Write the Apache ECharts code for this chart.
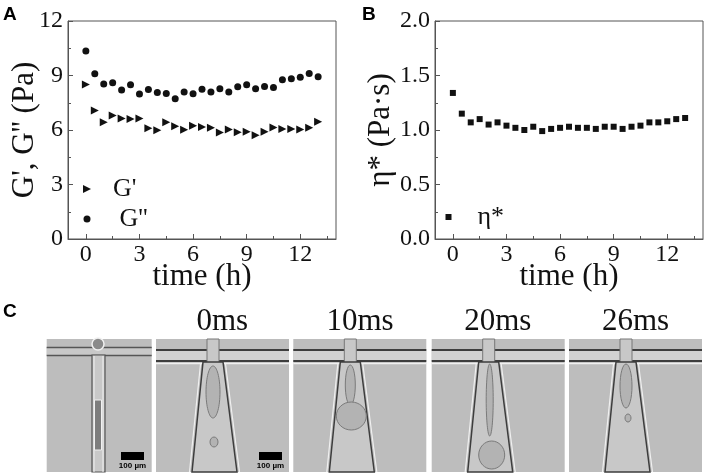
<!DOCTYPE html>
<html>
<head>
<meta charset="utf-8">
<script src="https://cdn.jsdelivr.net/npm/echarts@6/dist/echarts.min.js"></script>
<style>
  html, body { margin: 0; padding: 0; background: #fff; }
  #chart { width: 706px; height: 475px; }
</style>
</head>
<body>
<div id="chart"></div>
<script>
// time points (h), shared by both panels
const hours = [0, 0.5, 1, 1.5, 2, 2.5, 3, 3.5, 4, 4.5, 5, 5.5, 6, 6.5, 7, 7.5, 8, 8.5, 9, 9.5, 10, 10.5, 11, 11.5, 12, 12.5, 13]
// panel A: storage modulus G' and loss modulus G'' (Pa)
const gPrime = [8.51, 7.07, 6.43, 6.8, 6.63, 6.6, 6.63, 6.1, 5.99, 6.43, 6.21, 6.01, 6.23, 6.16, 6.12, 5.86, 6.03, 5.88, 5.9, 5.71, 5.9, 6.14, 6.05, 6.05, 6.03, 6.12, 6.45]
const gDouble = [10.35, 9.1, 8.53, 8.6, 8.2, 8.49, 7.98, 8.23, 8.07, 8.01, 7.72, 8.09, 7.99, 8.25, 8.09, 8.27, 8.09, 8.38, 8.49, 8.27, 8.4, 8.34, 8.77, 8.82, 8.91, 9.11, 8.93]
// panel B: complex viscosity (Pa·s)
const etaStar = [1.34, 1.15, 1.07, 1.1, 1.05, 1.07, 1.04, 1.02, 1.0, 1.03, 0.99, 1.01, 1.02, 1.03, 1.02, 1.02, 1.01, 1.03, 1.03, 1.01, 1.03, 1.04, 1.07, 1.07, 1.08, 1.1, 1.11]

const xTicks = [0, 3, 6, 9, 12]
const xMinorTicks = [1.5, 4.5, 7.5, 10.5, 13.5]
const frameLabels = ['0ms', '10ms', '20ms', '26ms']

const SERIF = 'Liberation Serif'
const INK = '#111'
const AXIS = '#555'
const RIGHT_TRIANGLE = 'path://M0,0L10,5L0,10Z'

const chart = echarts.init(document.getElementById('chart'), null, { renderer: 'canvas' })

function timeAxis(gridIndex) {
  return {
    gridIndex, type: 'value', min: -1, max: 14,
    name: 'time (h)', nameLocation: 'middle', nameGap: 22, nameMoveOverlap: false,
    nameTextStyle: { fontFamily: SERIF, fontSize: 31, color: INK },
    axisLine: { show: true, onZero: false, lineStyle: { color: AXIS } },
    axisTick: { show: true, inside: true, length: 5, customValues: xTicks, lineStyle: { color: AXIS } },
    axisLabel: { customValues: xTicks, fontFamily: SERIF, fontSize: 24, color: INK, margin: 4 },
    splitLine: { show: false },
  }
}

function minorTimeAxis(gridIndex) {
  return {
    gridIndex, type: 'value', min: -1, max: 14, position: 'bottom',
    axisLine: { show: false },
    axisTick: { show: true, inside: true, length: 3, customValues: xMinorTicks, lineStyle: { color: AXIS } },
    axisLabel: { show: false },
    splitLine: { show: false },
  }
}

function valueAxis(gridIndex, max, interval, name, nameGap, digits) {
  return {
    gridIndex, type: 'value', min: 0, max, interval,
    name, nameLocation: 'middle', nameGap, nameMoveOverlap: false,
    nameTextStyle: { fontFamily: SERIF, fontSize: 31, color: INK },
    axisLine: { show: true, onZero: false, lineStyle: { color: AXIS } },
    axisTick: { show: true, inside: true, length: 5, lineStyle: { color: AXIS } },
    minorTick: { show: true, splitNumber: 2, length: 3, lineStyle: { color: AXIS } },
    axisLabel: { fontFamily: SERIF, fontSize: 24, color: INK, margin: 5, formatter: v => v.toFixed(digits) },
    splitLine: { show: false },
  }
}

// one legend per entry so each marker/text pair can sit where the figure has it
function legendBox(name, icon, left, top, size, textPad) {
  return {
    data: [{ name, icon }], left, top, itemWidth: size, itemHeight: size, padding: 0, itemGap: 0,
    selectedMode: false, symbolKeepAspect: true,
    itemStyle: { color: INK, opacity: 1 },
    textStyle: { fontFamily: SERIF, fontSize: 26, color: INK, padding: [0, 0, 0, textPad] },
  }
}

// --- panel C: simplified sketches of the microscope frames ---
const BG = '#bdbdbd', CH = '#c8c8c8', EDGE = '#3d3d3d', HI = '#f0f0f0'
const graphics = []

function scaleBar(x, y) {
  graphics.push({ type: 'rect', shape: { x, y, width: 23, height: 8 }, style: { fill: '#000' } })
  graphics.push({ type: 'text', x: x + 11.5, y: y + 14,
    style: { text: '100 µm', fontFamily: 'Liberation Sans', fontWeight: 'bold', fontSize: 8, fill: '#000', align: 'center', verticalAlign: 'middle' } })
}

function firstFrame() {
  const x0 = 46.7, w = 105, y0 = 339, h = 133
  graphics.push({ type: 'rect', shape: { x: x0, y: y0, width: w, height: h }, style: { fill: BG } })
  graphics.push({ type: 'rect', shape: { x: x0, y: 347, width: w, height: 9 }, style: { fill: CH } })
  graphics.push({ type: 'line', shape: { x1: x0, y1: 347.5, x2: x0 + w, y2: 347.5 }, style: { stroke: '#555', lineWidth: 1.5 } })
  graphics.push({ type: 'line', shape: { x1: x0, y1: 355.5, x2: x0 + w, y2: 355.5 }, style: { stroke: '#555', lineWidth: 1.5 } })
  graphics.push({ type: 'rect', shape: { x: 92, y: 355, width: 13, height: 117 }, style: { fill: CH, stroke: '#555', lineWidth: 1.2 } })
  graphics.push({ type: 'line', shape: { x1: 94, y1: 356, x2: 94, y2: 472 }, style: { stroke: HI, lineWidth: 1 } })
  graphics.push({ type: 'line', shape: { x1: 103, y1: 356, x2: 103, y2: 472 }, style: { stroke: HI, lineWidth: 1 } })
  graphics.push({ type: 'circle', shape: { cx: 98, cy: 344, r: 6 }, style: { fill: '#8a8a8a', stroke: HI, lineWidth: 1.5 } })
  graphics.push({ type: 'rect', shape: { x: 94.5, y: 400, width: 7, height: 50 }, style: { fill: '#7d7d7d', stroke: HI, lineWidth: 1 } })
  scaleBar(121, 452)
}

function dropFrame(x0, drops, withBar) {
  const w = 133, y0 = 339, h = 133, cx = x0 + 57
  graphics.push({ type: 'rect', shape: { x: x0, y: y0, width: w, height: h }, style: { fill: BG } })
  graphics.push({ type: 'rect', shape: { x: x0, y: 351, width: w, height: 10 }, style: { fill: '#d2d2d2' } })
  graphics.push({ type: 'line', shape: { x1: x0, y1: 350, x2: x0 + w, y2: 350 }, style: { stroke: EDGE, lineWidth: 2 } })
  graphics.push({ type: 'line', shape: { x1: x0, y1: 361, x2: x0 + w, y2: 361 }, style: { stroke: EDGE, lineWidth: 2 } })
  graphics.push({ type: 'line', shape: { x1: x0, y1: 363.5, x2: x0 + w, y2: 363.5 }, style: { stroke: HI, lineWidth: 1.5 } })
  graphics.push({ type: 'rect', shape: { x: cx - 6, y: y0, width: 12, height: 24 }, style: { fill: CH, stroke: '#777', lineWidth: 1 } })
  graphics.push({ type: 'polygon', shape: { points: [[cx - 10, 362], [cx + 10, 362], [cx + 24, 472], [cx - 21, 472]] },
    style: { fill: CH, stroke: EDGE, lineWidth: 1.5 } })
  graphics.push({ type: 'polyline', shape: { points: [[cx - 12.5, 364], [cx - 23.5, 472]] }, style: { stroke: HI, lineWidth: 1.2 } })
  graphics.push({ type: 'polyline', shape: { points: [[cx + 12.5, 364], [cx + 26.5, 472]] }, style: { stroke: HI, lineWidth: 1.2 } })
  drops.forEach(d => {
    graphics.push({ type: 'ellipse', shape: { cx: cx + d[0], cy: d[1], rx: d[2], ry: d[3] },
      style: { fill: '#b3b3b3', stroke: '#7a7a7a', lineWidth: 1 } })
  })
  if (withBar) scaleBar(259, 452)
}

firstFrame()
dropFrame(156, [[0, 392, 7, 26], [1, 442, 4, 5]], true)
dropFrame(293.3, [[0, 385, 5, 20], [1, 416, 15, 14]], false)
dropFrame(431.7, [[1, 400, 3.5, 36], [3, 455, 13, 14]], false)
dropFrame(569, [[0, 386, 6, 22], [2, 418, 3, 4]], false)

const frameCenters = [222.3, 360, 497.8, 635.5]
frameLabels.forEach((t, i) => {
  graphics.push({ type: 'text', x: frameCenters[i], y: 322,
    style: { text: t, fontFamily: SERIF, fontSize: 31, fill: INK, align: 'center', verticalAlign: 'middle' } })
})

const panelLetter = (text, x, y) => ({ type: 'text', x, y,
  style: { text, fontFamily: 'Liberation Sans', fontWeight: 'bold', fontSize: 19, fill: '#000', verticalAlign: 'top' } })
graphics.push(panelLetter('A', 3, 5), panelLetter('B', 362, 5), panelLetter('C', 3, 302))

chart.setOption({
  animation: false,
  backgroundColor: '#ffffff',
  grid: [
    { left: 68, top: 21, width: 268, height: 218, show: true, borderColor: AXIS, borderWidth: 1, outerBoundsMode: 'none' },
    { left: 435, top: 21, width: 268, height: 218, show: true, borderColor: AXIS, borderWidth: 1, outerBoundsMode: 'none' },
  ],
  xAxis: [timeAxis(0), minorTimeAxis(0), timeAxis(1), minorTimeAxis(1)],
  yAxis: [
    valueAxis(0, 12, 3, "G', G'' (Pa)", 28, 0),
    valueAxis(1, 2, 0.5, 'η* (Pa·s)', 39, 1),
  ],
  legend: [
    legendBox("G'", RIGHT_TRIANGLE, 83, 176, 8, 17),
    legendBox("G''", 'circle', 83.5, 206, 7, 24),
    legendBox('η*', 'rect', 445.5, 204, 6, 21),
  ],
  series: [
    { name: "G'", type: 'scatter', xAxisIndex: 0, yAxisIndex: 0, symbol: 'triangle', symbolRotate: -90, symbolSize: 8,
      itemStyle: { color: INK, opacity: 1 }, data: hours.map((t, i) => [t, gPrime[i]]) },
    { name: "G''", type: 'scatter', xAxisIndex: 0, yAxisIndex: 0, symbol: 'circle', symbolSize: 7,
      itemStyle: { color: INK, opacity: 1 }, data: hours.map((t, i) => [t, gDouble[i]]) },
    { name: 'η*', type: 'scatter', xAxisIndex: 2, yAxisIndex: 1, symbol: 'rect', symbolSize: 6,
      itemStyle: { color: INK, opacity: 1 }, data: hours.map((t, i) => [t, etaStar[i]]) },
  ],
  graphic: graphics,
})
</script>
</body>
</html>
